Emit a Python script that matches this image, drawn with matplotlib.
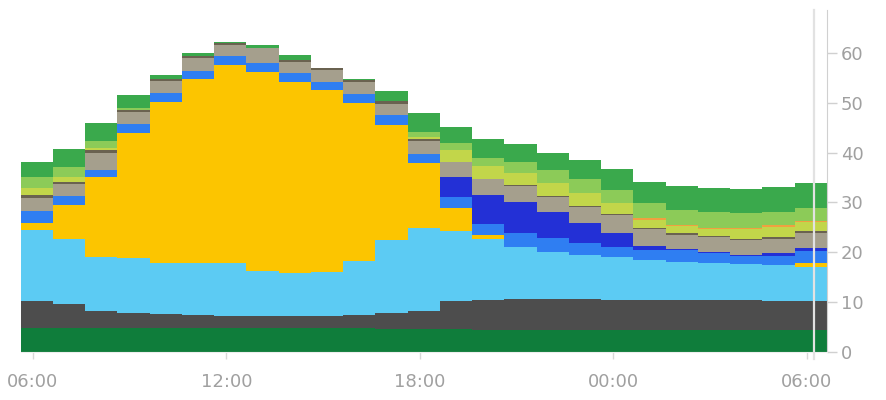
"""Stacked hourly generation mix, step style"""
import numpy as np
import matplotlib.pyplot as plt

# hourly values (GW), 25 hourly bins starting just before 06:00
biomass = [4.8, 4.8, 4.8, 4.8, 4.8, 4.8, 4.8, 4.8, 4.8, 4.8, 4.8, 4.6, 4.6,
           4.6, 4.4, 4.4, 4.4, 4.4, 4.4, 4.4, 4.4, 4.4, 4.4, 4.4, 4.4]
lignite = [5.4, 4.8, 3.4, 3.0, 2.8, 2.7, 2.5, 2.4, 2.4, 2.5, 2.6, 3.2, 3.6,
           5.7, 6.1, 6.2, 6.2, 6.2, 6.1, 6.1, 6.0, 6.0, 6.0, 5.9, 5.9]
gas = [14.3, 13.0, 10.9, 11.0, 10.3, 10.3, 10.5, 9.1, 8.7, 8.7, 10.9, 14.7, 16.7,
       13.9, 12.1, 10.5, 9.5, 8.9, 8.6, 8.0, 7.7, 7.4, 7.2, 7.2, 6.8]
solar = [1.3, 6.9, 16.1, 25.2, 32.3, 36.9, 39.8, 39.8, 38.3, 36.5, 31.7, 23.1, 13.0,
         4.6, 0.8, 0, 0, 0, 0, 0, 0, 0, 0, 0, 0.8]
hydro = [2.4, 1.8, 1.4, 1.7, 1.7, 1.7, 1.7, 1.9, 1.8, 1.6, 1.7, 2.0, 1.9,
         2.3, 2.3, 2.7, 2.7, 2.3, 2.0, 2.0, 2.3, 2.0, 1.7, 1.8, 2.3]
storage = [0, 0, 0, 0, 0, 0, 0, 0, 0, 0, 0, 0, 0,
           4.0, 5.7, 6.3, 5.3, 4.1, 2.8, 0.8, 0.3, 0.2, 0.2, 0.5, 0.7]
other = [2.7, 2.3, 3.4, 2.5, 2.5, 2.5, 2.2, 2.9, 2.1, 2.4, 2.5, 2.2, 2.5,
         3.0, 3.3, 3.1, 3.0, 3.2, 3.5, 3.3, 2.8, 3.0, 2.9, 2.8, 2.9]
oil = [0.5, 0.4, 0.5, 0.4, 0.3, 0.4, 0.4, 0.1, 0.5, 0.4, 0.4, 0.5, 0.5,
       0.1, 0.1, 0.2, 0.2, 0.2, 0.2, 0.2, 0.4, 0.3, 0.3, 0.4, 0.4]
waste = [1.5, 1.2, 0.5, 0, 0, 0, 0, 0, 0, 0, 0, 0, 0.4,
         2.3, 2.5, 2.5, 2.6, 2.5, 2.3, 1.7, 1.3, 1.3, 1.9, 2.1, 1.8]
pumped = [0, 0, 0, 0, 0, 0, 0, 0, 0, 0, 0, 0, 0,
          0, 0, 0, 0, 0, 0, 0.3, 0.3, 0.3, 0.3, 0.3, 0.3]
wind_off = [2.3, 2.0, 1.3, 0.3, 0.1, 0, 0, 0, 0, 0, 0, 0, 1.0,
            1.5, 1.6, 2.3, 2.6, 3.0, 2.6, 3.0, 3.0, 3.2, 3.0, 2.7, 2.5]
wind_on = [2.9, 3.5, 3.7, 2.7, 0.8, 0.7, 0.2, 0.6, 1.0, 0, 0.1, 2.1, 3.8,
           3.2, 3.8, 3.5, 3.4, 3.7, 4.2, 4.2, 4.8, 4.7, 4.7, 4.9, 5.0]

layers = [biomass, lignite, gas, solar, hydro, storage, other, oil,
          waste, pumped, wind_off, wind_on]
colors = ['#0f7d3b', '#4d4d4d', '#5ccbf3', '#fcc500', '#2f7ef2', '#2330d6',
          '#a59f8d', '#6a6250', '#c2d64a', '#f0a040', '#8ccb58', '#3aa94c']

tick_pos = [0, 6, 12, 18, 24]
tick_labels = ['06:00', '12:00', '18:00', '00:00', '06:00']
now_pos = 24.22

fig = plt.figure(figsize=(8.86, 4.0), dpi=100)
fig.patch.set_facecolor('white')
ax = fig.add_axes([0.0234, 0.12, 0.91, 0.855])

n = len(biomass)
edges = np.arange(n + 1) - 0.38
base = np.zeros(n)
for vals, c in zip(layers, colors):
    top = base + np.array(vals)
    ax.stairs(top, edges, baseline=base, fill=True, color=c, lw=0)
    base = top

ax.axvline(now_pos, ymin=-0.02, ymax=1, color='#e2e2e2', lw=1.6, clip_on=False, zorder=5)

ax.set_xlim(edges[0], edges[-1])
ax.set_ylim(0, 68.6)
ax.set_xticks(tick_pos)
ax.set_xticklabels(tick_labels)
ax.set_yticks(range(0, 61, 10))

ax.yaxis.tick_right()
for s in ['top', 'left']:
    ax.spines[s].set_visible(False)
ax.spines['right'].set_color('#d0d0d0')
ax.spines['bottom'].set_color('#eeeeee')
ax.tick_params(axis='y', colors='#d0d0d0', labelcolor='#a0a0a0', length=7,
               width=1, pad=3, labelsize=13)
ax.tick_params(axis='x', colors='#d8d8d8', labelcolor='#a0a0a0', length=5,
               width=1, pad=10, labelsize=13)

plt.savefig('out.png', dpi=100, facecolor='white')
plt.close()
